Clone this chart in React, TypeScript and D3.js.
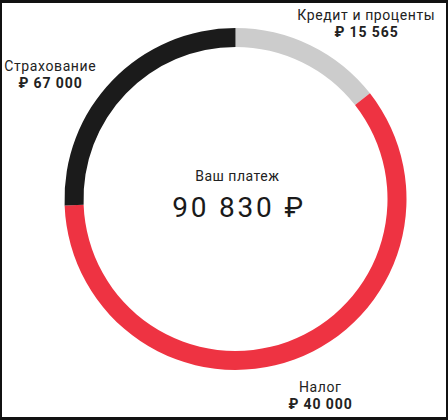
import React, { useRef, useEffect } from "react";
import * as d3 from "d3";

// segments clockwise from 12 o'clock
const categories = ["Кредит и проценты", "Налог", "Страхование"];
const amounts = ["₽ 15 565", "₽ 40 000", "₽ 67 000"];
const shares = [14.4, 60, 25.6]; // share of the ring, %
const colors = ["#cccccc", "#ee3342", "#1b1b1b"];
const totalLabel = "Ваш платеж";
const totalValue = "90 830 ₽";

const W = 448;
const H = 420;
const FONT = "Roboto, sans-serif";

// label anchors (centre of text block, baseline of first line)
const labelPos = [
  [366, 20],
  [320, 392],
  [50, 71],
];

const App = () => {
  const svgRef = useRef<SVGSVGElement>(null);

  useEffect(() => {
    const svg = d3.select(svgRef.current);
    svg.selectAll("*").remove();
    svg.attr("width", W).attr("height", H).attr("viewBox", `0 0 ${W} ${H}`);

    // frame
    svg.append("rect").attr("width", W).attr("height", H).attr("fill", "#111");
    svg.append("rect").attr("x", 2).attr("y", 3).attr("width", W - 4).attr("height", H - 6).attr("fill", "#fff");

    const cx = 235.5;
    const cy = 199;
    const rOuter = 171;
    const rInner = 152;

    const data = categories.map((c, i) => ({ c, v: shares[i], i }));
    const pie = d3.pie<any>().value((d) => d.v).sort(null).startAngle(0).endAngle(2 * Math.PI);
    const arc = d3.arc<any>().innerRadius(rInner).outerRadius(rOuter);

    const g = svg.append("g").attr("transform", `translate(${cx},${cy})`);
    g.selectAll("path")
      .data(pie(data))
      .enter()
      .append("path")
      .attr("d", arc)
      .attr("fill", (d) => colors[d.data.i]);

    // centre
    svg.append("text")
      .attr("x", 237.3).attr("y", 181)
      .attr("text-anchor", "middle")
      .attr("font-family", FONT).attr("font-size", 14).attr("letter-spacing", 0.5).attr("fill", "#222")
      .text(totalLabel);
    svg.append("text")
      .attr("x", 239).attr("y", 216.5)
      .attr("text-anchor", "middle")
      .attr("font-family", FONT).attr("font-size", 28).attr("letter-spacing", 2.8).attr("fill", "#1a1a1a")
      .text(totalValue);

    // labels
    categories.forEach((c, i) => {
      const [x, y] = labelPos[i];
      svg.append("text")
        .attr("x", x + 0.3).attr("y", y)
        .attr("text-anchor", "middle")
        .attr("font-family", FONT).attr("font-size", 14).attr("letter-spacing", 0.6).attr("fill", "#222")
        .text(c);
      svg.append("text")
        .attr("x", x + 0.5).attr("y", y + 17)
        .attr("text-anchor", "middle")
        .attr("font-family", FONT).attr("font-size", 14).attr("font-weight", "bold").attr("letter-spacing", 0.9)
        .attr("fill", "#222")
        .text(amounts[i]);
    });
  }, []);

  return (
    <div style={{ position: "fixed", left: 0, top: 0 }}>
      <svg ref={svgRef} style={{ display: "block" }}></svg>
    </div>
  );
};

export default App;
